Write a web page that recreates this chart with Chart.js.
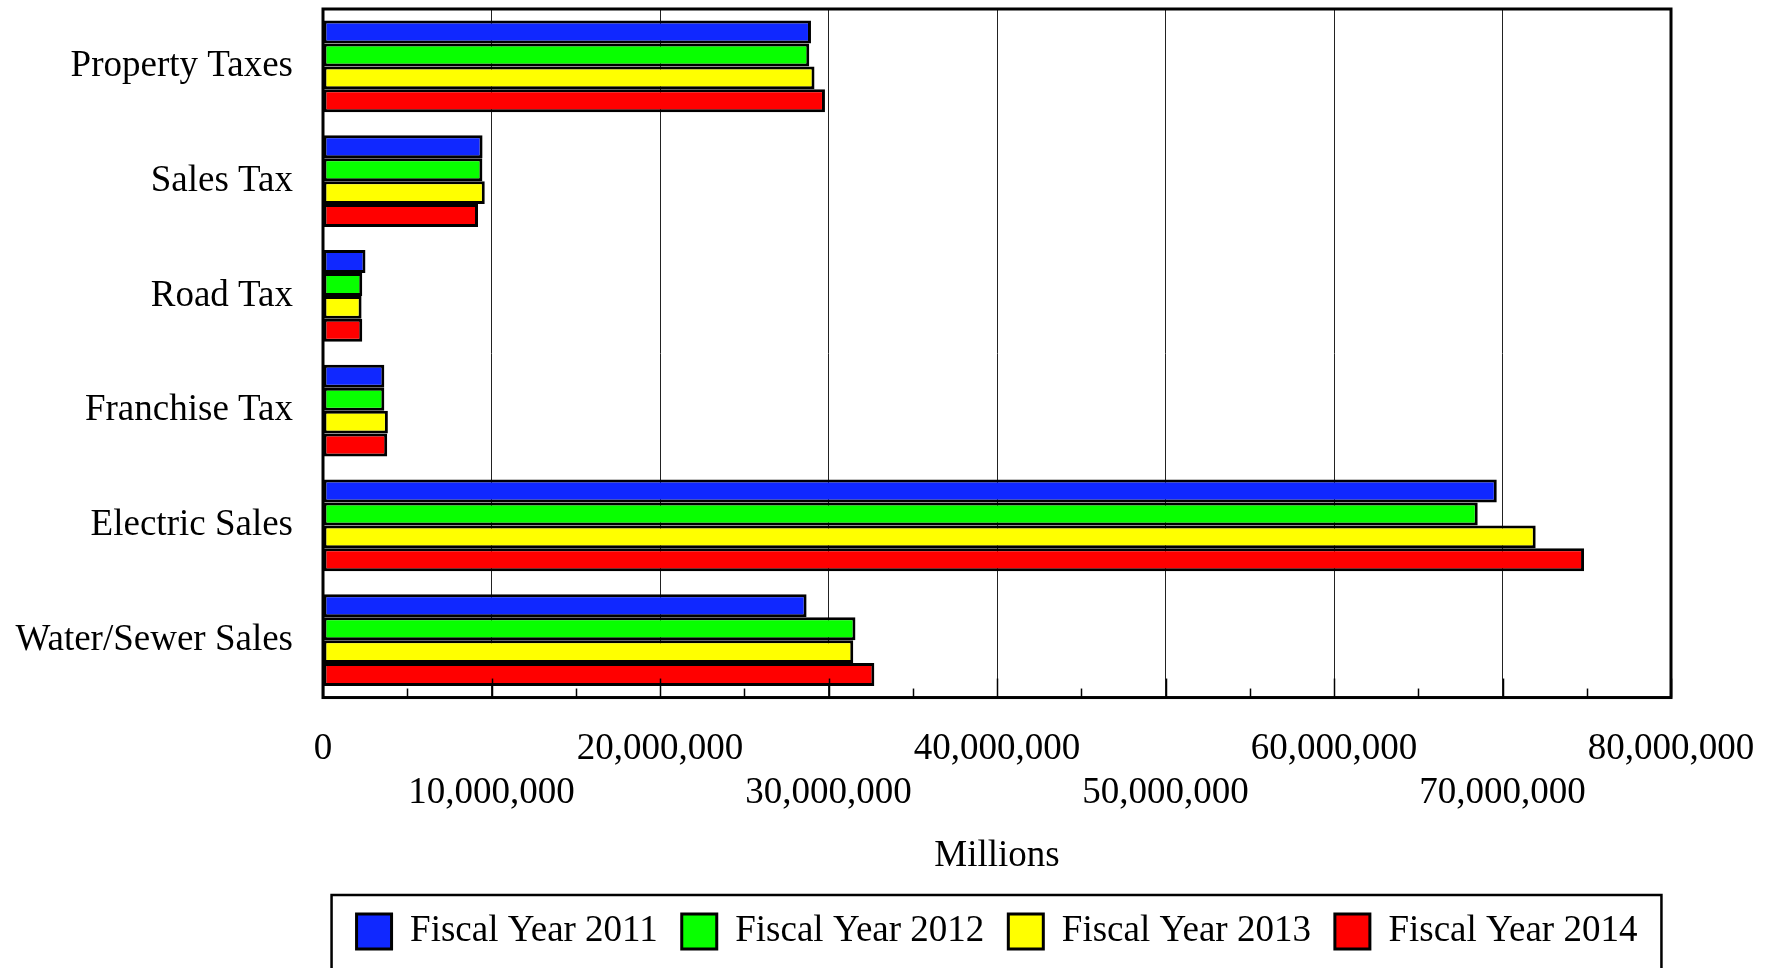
<!DOCTYPE html>
<html>
<head>
<meta charset="utf-8">
<title>Revenue by Source</title>
<script src="https://cdn.jsdelivr.net/npm/chart.js@4.4.1/dist/chart.umd.min.js"></script>
<style>
  html, body { margin: 0; padding: 0; background: #fff; }
  #wrap { width: 1771px; height: 968px; }
</style>
</head>
<body>
<div id="wrap"><canvas id="myChart" width="1771" height="968"></canvas></div>
<script>
const categorias = ['Property Taxes', 'Sales Tax', 'Road Tax', 'Franchise Tax', 'Electric Sales', 'Water/Sewer Sales'];
const anos = ['Fiscal Year 2011', 'Fiscal Year 2012', 'Fiscal Year 2013', 'Fiscal Year 2014'];
const fy2011 = [28960000, 9470000, 2520000, 3640000, 69660000, 28700000];
const fy2012 = [28860000, 9460000, 2330000, 3640000, 68530000, 31600000];
const fy2013 = [29170000, 9600000, 2290000, 3850000, 71970000, 31470000];
const fy2014 = [29790000, 9200000, 2330000, 3810000, 74840000, 32720000];
const cores = ['#1028ff', '#08ff00', '#ffff00', '#ff0000'];
const eixoMax = 80000000;
const passo = 10000000;

const fonte = { family: '"Liberation Serif", "Times New Roman", serif', size: 37 };

// moldura do grafico + marcas pequenas no eixo de baixo (por dentro)
const moldura = {
  id: 'moldura',
  afterDatasetsDraw(chart) {
    const { ctx, chartArea: a, scales } = chart;
    const x = scales.x;
    ctx.save();
    ctx.strokeStyle = '#000';
    ctx.lineWidth = 1.5;
    for (let v = 0; v <= eixoMax; v += passo / 2) {
      const px = Math.round(x.getPixelForValue(v)) + 0.5;
      const len = (v % passo === 0) ? 19 : 9;
      ctx.beginPath();
      ctx.moveTo(px, a.bottom);
      ctx.lineTo(px, a.bottom - len);
      ctx.stroke();
    }
    ctx.lineWidth = 3;
    ctx.strokeRect(a.left, a.top, a.right - a.left, a.bottom - a.top);
    ctx.restore();
  },
  afterDraw(chart) {
    const boxes = chart.legend.legendHitBoxes;
    if (!boxes || !boxes.length) return;
    const ctx = chart.ctx;
    const first = boxes[0];
    const last = boxes[boxes.length - 1];
    ctx.save();
    ctx.strokeStyle = '#000';
    ctx.lineWidth = 2.5;
    ctx.strokeRect(first.left - 25, first.top - 18, last.left + last.width - first.left + 49, 200);
    ctx.restore();
  }
};

const ctx = document.getElementById('myChart').getContext('2d');
new Chart(ctx, {
  type: 'bar',
  data: {
    labels: categorias,
    datasets: [fy2011, fy2012, fy2013, fy2014].map((serie, i) => ({
      label: anos[i],
      data: serie,
      backgroundColor: cores[i],
      borderColor: '#000',
      borderWidth: 3,
      borderSkipped: false,
      categoryPercentage: 0.8,
      barPercentage: 1.0
    }))
  },
  options: {
    indexAxis: 'y',
    responsive: false,
    animation: false,
    layout: { padding: { top: 9, right: 100, left: 0, bottom: 8 } },
    plugins: {
      tooltip: { enabled: false },
      legend: {
        position: 'bottom',
        fullSize: false,
        labels: {
          font: fonte,
          color: '#000',
          boxWidth: 35,
          boxHeight: 35,
          padding: 24
        }
      }
    },
    scales: {
      x: {
        min: 0,
        max: eixoMax,
        border: { display: false },
        grid: { color: '#222', lineWidth: 1, drawTicks: true, tickLength: 30, tickColor: 'rgba(0,0,0,0)' },
        ticks: {
          stepSize: passo,
          padding: 0,
          color: '#000',
          font: { ...fonte, lineHeight: 1.19 },
          maxRotation: 0,
          autoSkip: false,
          callback: function (valor) {
            const txt = valor.toLocaleString('en-US');
            return (valor / passo) % 2 === 0 ? [txt, ''] : ['', txt];
          }
        },
        title: {
          display: true,
          text: 'Millions',
          color: '#000',
          font: fonte,
          padding: { top: 18, bottom: 11 }
        }
      },
      y: {
        border: { display: false },
        grid: { display: false, drawTicks: true, tickLength: 30 },
        ticks: { color: '#000', font: { ...fonte, lineHeight: 0.48 }, padding: 0 },
        afterFit: function (scale) { scale.width = 323; }
      }
    }
  },
  plugins: [moldura]
});
</script>
</body>
</html>
